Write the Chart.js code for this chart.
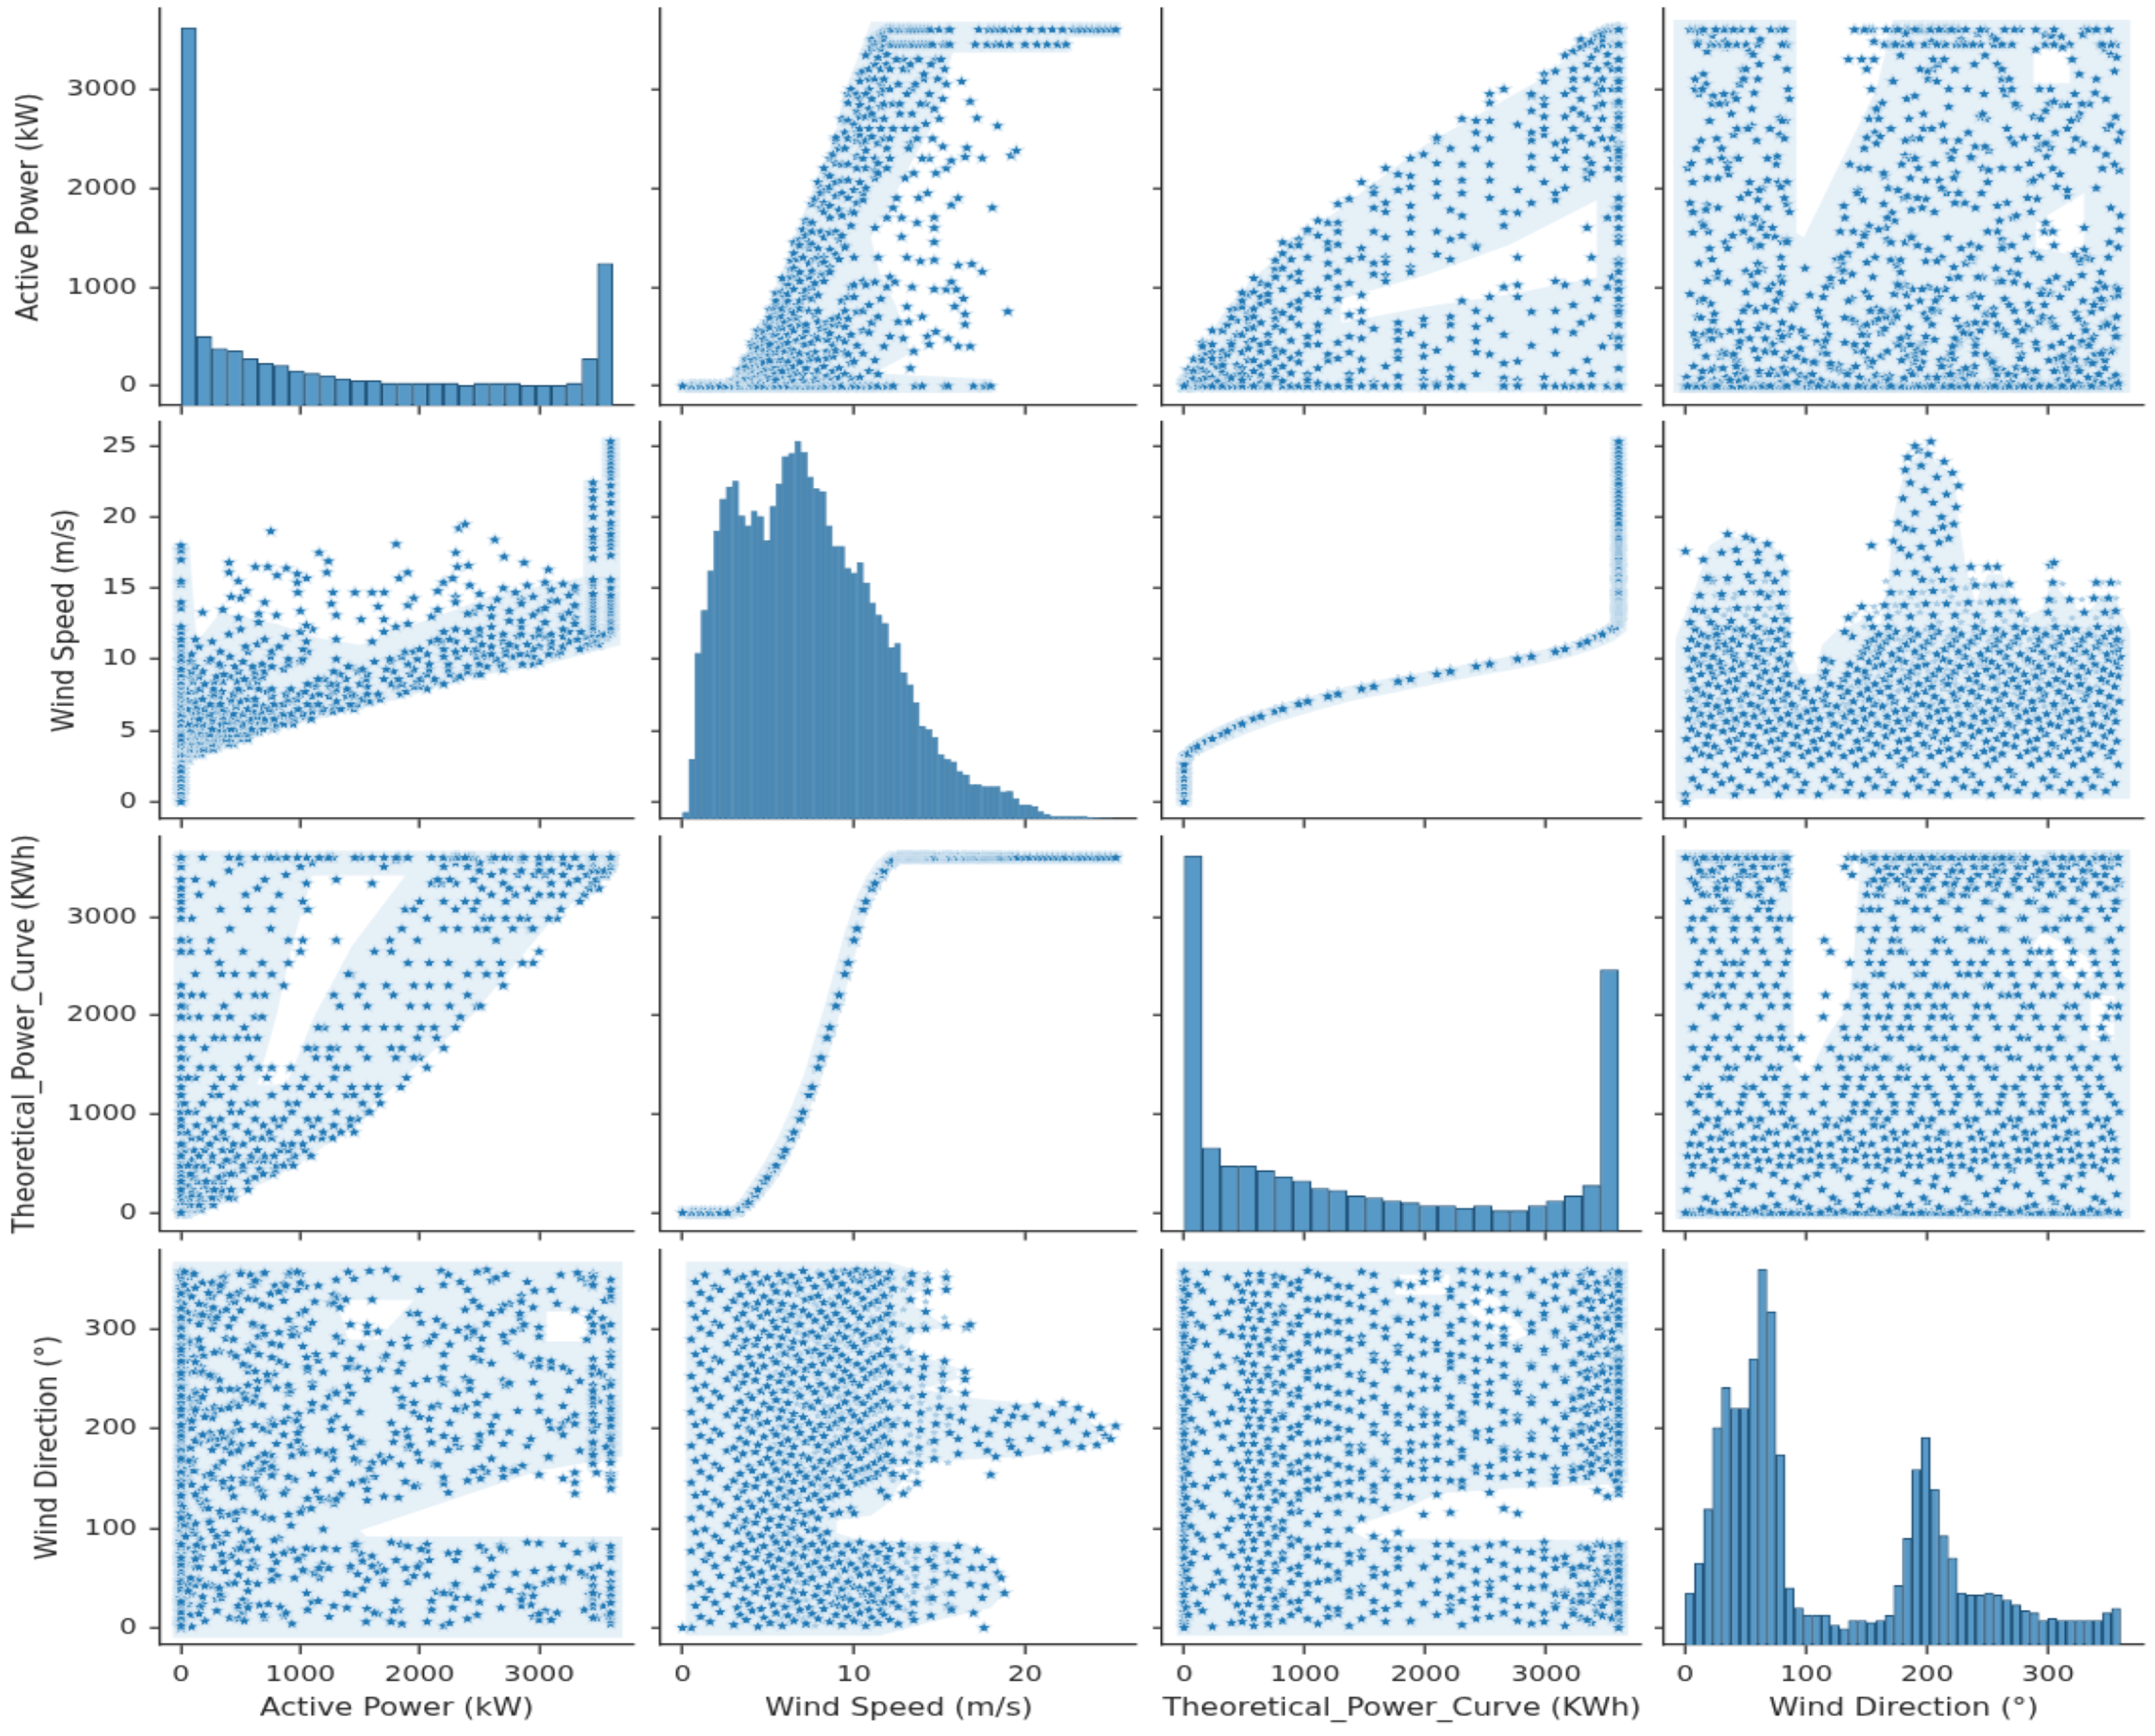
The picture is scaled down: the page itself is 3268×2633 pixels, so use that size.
<!DOCTYPE html>
<html><head><meta charset="utf-8"><title>Wind turbine pair plot</title>
<style>
html,body{margin:0;padding:0;background:#fff;width:3268px;height:2633px;overflow:hidden}
#stage{position:absolute;left:0;top:0;width:2723.33px;height:2633px;transform:scaleX(1.2);transform-origin:0 0}
canvas{position:absolute;image-rendering:auto}
</style>
<script src="https://cdn.jsdelivr.net/npm/chart.js@4/dist/chart.umd.min.js"></script>
</head><body><div id="stage"></div>
<script>
const labels=['Active Power (kW)','Wind Speed (m/s)','Theoretical_Power_Curve (KWh)','Wind Direction (°)'];
const powerTicks=[0,1000,2000,3000];
const speedTicksX=[0,10,20];
const speedTicksY=[0,5,10,15,20,25];
const directionTicks=[0,100,200,300];

// diagonal histograms: bar heights as % of the tallest bar
const histActivePower=[100,18.3,15.1,14.5,12.4,11.2,10.6,9.2,8.5,7.9,7.1,6.6,6.6,5.9,5.9,5.9,5.9,5.9,5.3,5.9,5.9,5.9,5.3,5.3,5.3,5.9,12.4,37.6];
const histWindSpeed=[1.8,15.7,43.9,55.2,65.6,76.3,84.7,87.8,89.4,80.2,77.6,81.5,80.1,73.6,82.7,88.7,95.9,96.8,100,97.1,90.5,87.4,86.7,77.6,72.2,72.2,66.4,65.1,67.8,62.4,57.2,54,51.8,45.3,46.5,38.8,35.5,30.7,24.5,23.7,21.6,17.1,15.8,15.1,12.6,11.7,9.1,9.1,8.5,8.5,8.5,7.2,7.3,5.4,3.8,3.8,3.2,1.9,1.3,.6,.6,.6,.6,.6,.6,.4,.2,.1,.1];
const histTheoretical=[100,22.2,17.4,17.4,16.1,14.6,13.4,11.4,10.9,9.4,8.9,8.1,7.6,6.8,6.8,6.2,6.8,5.5,5.5,6.8,8.1,9.4,12.2,69.6];
const histDirection=[13.9,21.8,36.2,57.9,68.5,63,63,76.2,100,88.7,50.7,15.2,9.9,8,8,8,5.3,4.4,6.6,6.6,6,6.6,7.9,15.9,28.4,46.7,55.3,41.5,29.1,23.2,13.9,13.3,13.3,13.9,13.3,12,10.7,9.2,8.6,6.6,7.1,6.6,6.6,6.6,6.6,6.6,8.6,9.8];
const histBinWidths=[129.2,0.364,150,7.5];

// readings, 20 per line; each line shares two wind-speed steps (below)
const windSpeedSteps=[0.5,0.75,1.05,1.3,1.6,1.9,2.2,2.6,3,3.2,3.36,3.54,3.71,3.89,4.06,4.24,4.41,4.59,4.76,4.94,5.11,5.29,5.46,5.64,5.81,5.99,6.16,6.34,6.51,6.69,6.86,7.04,7.21,7.39,7.56,7.74,7.91,8.09,8.26,8.44,8.61,8.79,8.96,9.14,9.31,9.49,9.66,9.84,10.01,10.19,10.36,10.54,10.71,10.89,11.06,11.24,11.41,11.59,11.76,11.94,12.11,12.29];
const theoreticalSteps=[0,0,0,0,0,0,0,0,0,18,35,55,80,112,150,185,232,276,318,358,392,438,479,531,576,634,694,756,816,884,948,1022,1108,1192,1273,1367,1470,1570,1668,1772,1876,1984,2094,2206,2302,2418,2532,2648,2762,2878,2983,3076,3156,3224,3288,3338,3376,3424,3466,3508,3546,3574];
const ratedTheoretical=3600;
const highWindSpeed=[
12.6,12.6,12.7,12.7,12.8,12.8,12.9,12.9,13,13,13.1,13.1,13.1,13.2,13.2,13.3,13.3,13.3,13.4,13.4,
13.5,13.5,13.6,13.6,13.7,13.7,13.8,13.8,13.9,13.9,14,14,14.1,14.1,14.2,14.2,14.3,14.3,14.4,14.4,
14.5,14.6,14.7,14.7,14.7,14.7,14.7,14.8,15,15.2,15.2,15.3,15.4,15.4,15.4,15.5,15.5,15.5,15.6,15.6,
15.7,15.7,15.7,15.9,16,16.1,16.1,16.1,16.3,16.4,16.5,16.5,16.5,16.6,16.8,16.8,16.9,17,17.1,17.2,
17.3,17.5,17.5,17.6,17.7,17.8,17.9,18,18.1,18.2,18.3,18.4,18.5,18.6,18.8,19,19.1,19.2,19.3,19.5,
19.6,20,20.3,20.7,21,21.3,21.6,21.9,22.2,22.4,22.8,23.1,23.3,23.6,23.9,24.2,24.4,24.7,25,25.3];
const activePower=[
0,0,0,0,0,0,0,0,0,0,0,0,0,0,0,0,0,0,0,0,
0,0,0,0,0,0,0,0,0,0,0,0,0,0,0,0,0,0,0,0,
0,0,0,0,0,0,0,0,0,0,0,0,0,0,0,0,0,0,0,0,
0,0,0,0,0,0,0,0,0,0,0,0,0,0,0,0,0,0,0,0,
0,30,0,10,45,0,20,0,55,15,0,35,5,0,60,25,0,40,0,12,
80,0,150,40,0,110,20,165,60,0,130,10,95,0,170,50,0,120,30,70,
0,180,60,280,120,20,240,0,90,300,150,40,210,0,270,110,70,0,190,30,
300,50,0,420,160,240,10,360,110,0,440,200,70,320,0,140,400,30,260,90,
90,480,230,0,550,20,340,150,420,60,510,0,280,120,560,190,380,40,0,300,
410,0,140,600,280,60,520,0,210,650,350,100,470,20,560,170,0,320,240,620,
0,660,310,120,770,30,450,210,590,0,380,730,80,520,260,0,690,160,420,790,
520,90,800,0,340,920,180,650,20,440,860,260,0,730,120,580,940,380,60,690,
0,830,260,1040,470,110,700,0,950,350,590,30,1090,200,780,420,0,900,150,640,
860,300,0,1180,520,90,1020,680,0,1270,240,760,440,1100,20,600,930,160,0,370,
200,1100,560,1420,0,820,50,1280,350,690,1450,0,980,130,1190,460,1340,0,740,280,
1060,0,1480,420,780,120,330,1560,0,930,240,1300,620,0,1150,60,1420,500,860,1580,
0,1390,560,1650,180,260,900,1240,30,760,1520,0,420,1100,1670,320,970,0,620,1450,
1650,340,1160,0,1840,500,1000,120,1430,720,0,1890,280,1280,880,0,1560,60,440,1040,
480,1800,0,1240,2060,40,760,1560,270,2000,920,0,1390,1950,160,1130,650,0,1300,580,
0,2140,1120,350,1760,560,200,1980,1300,0,2200,100,1500,470,1850,0,1060,280,1250,640,
1550,60,2300,620,1200,410,1820,0,2120,300,1380,2340,530,0,1700,150,2010,680,1150,0,
2480,180,1560,0,2060,620,1330,2400,30,1780,2250,480,0,1480,2510,700,1920,90,360,1280,
0,2680,1520,760,2240,340,1950,2560,0,1420,2080,600,2700,120,1720,2400,0,450,860,1400,
2950,520,1900,0,2680,230,2240,1620,2860,80,2080,3000,900,0,2500,1760,680,0,320,1000,
1750,2930,60,2480,900,2200,0,2780,1980,410,2640,1850,0,2950,1020,2320,250,750,1300,2560,
3150,330,2060,0,2900,1880,2540,760,3080,2300,90,1950,2720,1060,0,2450,2840,560,2600,3180,
2200,3380,0,2800,1020,3200,2000,540,3340,2600,0,3000,2380,820,2720,150,2950,3100,2480,0,
3480,2100,640,3250,0,2700,3420,1600,2900,3100,0,2300,3500,1050,2520,260,2750,3450,0,2180,
2250,3540,0,2960,3320,880,3480,2600,120,3200,2150,3560,0,2820,1300,3530,2450,3400,700,3050,
3580,2400,3100,0,3450,1700,2700,3600,400,3250,3500,2200,3000,0,3550,1000,2850,3350,2500,3600,
3000,3600,2300,3450,1100,3600,3200,0,3450,2600,3600,1800,3450,2850,3600,0,2500,3600,500,3450,
3600,3450,2750,3600,1508,3450,3300,3600,3450,2100,3600,3200,800,3450,3600,2450,3600,180,3450,3000,
3600,3450,2600,0,3600,3300,3450,1900,1260,3600,3450,0,3100,3600,2850,3450,500,3600,3450,2300,
3600,3450,1703,1599,1456,1273,979,3300,3600,2419,3450,0,2198,974,3450,479,3600,0,3600,3450,
2276,1828,1052,805,974,1898,1221,401,3078,883,2315,727,622,2406,2875,401,1234,0,3450,2706,
3600,2302,1156,0,0,3450,3600,0,1802,3600,3450,2628,3600,3450,3600,753,3450,2328,3600,2380,
3600,3450,3600,3450,3600,3450,3600,3450,3600,3450,3600,3600,3600,3600,3600,3600,3600,3600,3600,3600];
const windDirection=[
0,22,41,55,77,96,110,133,146,168,183,204,217,240,253,275,290,312,326,348,
11,30,45,68,83,99,121,136,157,172,193,208,230,244,266,280,301,318,337,355,
6,25,38,62,74,92,115,128,151,164,188,199,223,237,259,271,296,307,331,343,
16,33,52,70,87,104,124,141,160,178,195,214,232,250,268,286,304,321,340,358,
3,20,44,58,80,97,112,131,148,169,181,203,220,241,256,277,293,311,329,350,
13,28,49,65,84,102,119,138,155,175,190,210,227,247,262,283,300,316,335,353,
8,24,40,60,76,94,108,126,144,162,186,200,218,234,254,272,289,306,325,345,
17,36,53,71,89,106,122,142,158,177,197,213,231,249,265,285,303,322,339,357,
1,19,43,56,78,93,113,129,150,166,184,205,216,238,258,274,291,313,327,347,
10,31,47,67,82,100,118,135,153,171,192,207,225,243,263,281,298,317,333,352,
5,23,39,61,73,91,109,127,146,165,180,198,221,236,252,270,294,308,328,344,
15,34,51,69,86,103,123,140,159,176,194,211,229,248,267,284,302,320,338,356,
2,21,42,57,79,95,111,132,149,167,185,202,219,239,255,276,292,310,326,349,
12,29,48,64,85,101,120,137,154,174,189,209,226,246,261,282,299,315,336,354,
7,26,37,59,75,90,107,125,147,163,182,201,215,235,257,273,288,305,323,346,
18,35,54,72,88,105,117,139,156,173,196,212,233,251,269,287,305,319,341,359,
4,20,46,63,81,98,114,130,152,170,187,206,224,242,260,278,295,314,330,351,
14,32,50,66,84,99,116,134,145,161,191,199,222,237,264,279,297,309,332,343,
9,27,41,60,77,92,110,128,151,168,183,204,228,245,256,275,293,318,334,355,
19,36,55,70,86,96,120,143,157,178,193,214,217,240,266,283,301,312,327,348,
6,24,43,62,80,114,131,150,165,184,201,219,235,254,271,290,307,325,344,358,
13,31,48,66,84,116,134,148,169,187,206,223,241,262,280,296,316,333,352,22,
3,20,39,58,75,30,142,157,172,192,210,227,249,258,274,292,310,328,346,358,
11,28,46,64,83,120,136,152,163,181,199,218,236,253,269,286,303,321,339,356,
7,23,41,59,78,145,115,158,176,195,213,231,247,265,283,299,318,336,350,360,
15,34,53,69,86,147,40,160,171,190,208,226,244,260,277,295,312,331,349,355,
2,18,37,55,72,150,64,162,178,197,215,233,251,268,288,305,322,340,358,27,
10,27,44,61,81,152,33,166,183,201,220,237,256,272,291,309,326,343,354,359,
5,22,39,57,76,138,156,170,188,205,224,242,259,275,293,311,329,347,357,17,
13,30,49,67,84,132,160,174,192,209,228,246,263,280,298,316,334,352,26,71,
8,25,42,60,79,155,47,168,186,204,222,240,257,273,290,306,323,341,358,35,
4,21,38,56,74,84,135,152,168,186,205,223,241,259,277,300,330,347,356,14,
8,25,43,60,78,146,165,181,199,216,234,252,262,272,301,318,338,350,30,68,
12,30,47,62,80,170,188,205,222,240,255,268,304,340,352,22,55,74,196,213,
20,18,35,52,68,82,175,190,208,222,236,250,258,302,305,44,60,15,200,78,
185,30,60,0,42,178,195,154,68,210,172,55,218,50,35,205,188,182,213,222,
176,212,190,224,205,180,216,198,226,186,208,221,182,195,214,184,201,193,190,203];
// further direction readings for the rows from line 12 on
const repeatDirectionStart=220;
const repeatDirection=[
150,168,185,203,220,239,257,275,293,311,329,347,6,24,43,60,78,95,112,132,
265,284,301,319,336,356,10,30,50,66,88,104,120,141,158,176,194,210,228,248,
75,92,110,128,146,165,182,200,218,237,254,272,290,307,325,345,4,21,39,57,
212,225,244,263,281,297,317,335,352,13,33,46,69,83,99,116,134,156,172,191,
130,148,167,186,204,221,240,258,276,294,313,331,349,9,27,44,62,80,135,160,
243,262,279,298,315,333,355,11,28,48,67,84,140,155,173,190,208,226,150,170,
56,74,131,147,164,183,201,219,236,255,273,291,308,326,344,2,19,37,132,176,
178,196,213,232,250,269,286,304,322,340,358,16,35,52,71,138,157,143,129,165,
292,310,328,346,6,24,42,61,79,133,151,169,187,206,223,241,259,277,150,80,
149,168,186,204,222,240,258,276,294,312,330,348,7,25,44,61,79,160,178,214,
214,232,250,268,286,304,322,340,358,17,35,53,71,84,150,166,184,201,192,275,
63,80,148,162,179,197,216,234,252,270,288,306,324,342,360,9,27,45,207,243,
247,265,283,301,319,337,355,15,33,50,68,85,152,170,188,206,224,293,40,178,
171,190,208,226,244,262,280,298,316,334,352,4,22,40,58,76,155,174,237,306,
326,344,6,24,42,60,78,153,172,190,208,226,244,262,280,298,316,20,70,200,
35,53,71,158,176,194,212,230,248,266,284,302,320,338,356,14,32,60,182,220,
204,222,240,258,276,294,312,330,348,8,26,44,62,80,161,179,197,215,233,251,
285,303,321,339,357,15,33,51,69,84,164,182,200,218,236,254,272,290,175,45,
12,30,48,66,83,167,185,203,221,239,257,275,293,311,329,347,22,56,194,248,
154,172,190,208,226,244,262,280,298,316,334,352,10,28,46,64,82,148,199,270,
210,228,246,264,282,305,320,340,352,18,32,50,66,80,140,158,176,194,232,270,
15,36,52,70,82,156,174,192,208,226,244,256,268,305,328,345,356,40,186,220,
25,42,58,72,84,178,196,214,232,248,262,312,345,358,35,66,166,204,220,238];
// further speed/power readings in the thick part of the speed-power wedge
const wedgeSpeed=[12.5,12.6,12.7,12.9,13,13.1,13.2,13.3,13.4,13.5,13.6,13.7,13.8,13.9,14,14.1,14.2,14.3,14.4,14.5,14.6,14.7,14.8,14.9,15,15.1,15.2,15.3,15.4,12.5,12.8,13.1,13.4,13.7,12.6,12.9,13.2,13.5,14,14.4,14.8,12.4];
const wedgePower=[3300,3050,2850,3200,2600,2950,2400,3250,2750,2150,3050,2500,3300,2850,2300,3150,2650,1950,2950,3250,2500,2800,2150,3100,2700,3300,2900,3200,3050,1900,1700,1300,1000,1650,650,480,650,350,700,420,550,1050];
const stillAirRow=[0,0,0,0];

// outlines of the pale haze made by overlapping translucent markers
const hazeSpeedPower=[[-0.3,-70],[18.1,-70],[18.1,70],[11.2,130],[13.3,330],[12.5,800],[11.5,1150],[11,1500],[12,1800],[13.5,2300],[14.5,2600],[15.5,3200],[15.8,3370],[22.6,3370],[22.6,3520],[25.6,3520],[25.6,3680],[11,3680],[10.3,3350],[9.4,2950],[9,2600],[8.3,2250],[7.4,1900],[6.5,1500],[5.6,1050],[4.9,720],[4.1,400],[3.3,120],[2.7,70],[-0.3,70]];
const hazeSpeedTheoretical=[[-0.3,-70],[3.1,-70],[3.7,0],[4.3,80],[5.2,260],[6,470],[6.8,760],[7.5,1080],[8.1,1350],[8.7,1700],[9.3,2100],[9.9,2500],[10.5,2880],[11,3130],[11.6,3340],[12.2,3480],[12.8,3530],[25.7,3530],[25.7,3670],[12,3670],[11.3,3560],[10.7,3400],[10.1,3170],[9.5,2860],[8.9,2480],[8.3,2100],[7.7,1760],[7.1,1400],[6.4,1090],[5.6,770],[4.8,520],[4,300],[3.2,100],[2.8,70],[-0.3,70]];
const hazeTheoreticalPower=[[-60,-60],[3670,-60],[3670,3670],[3480,3660],[3000,3130],[2000,2440],[1000,1530],[570,1090],[313,720],[100,260],[-60,90],[-60,-60],[1300,880],[2000,1120],[2700,1430],[3420,1880],[3420,1100],[2700,930],[2000,800],[1300,640],[1300,880],[-60,-60]];
const hazePowerDirection=[[-70,-10],[3700,-10],[3700,92],[1550,92],[1500,98],[2000,118],[2500,138],[3000,158],[3700,172],[3700,368],[-70,368],[-70,-10],[1300,330],[1950,330],[1650,290],[1400,290],[1300,330],[-70,-10],[3060,318],[3400,318],[3400,288],[3060,288],[3060,318],[-70,-10]];
const hazeDirectionSpeed=[[-8,0.2],[368,0.2],[368,12],[355,14.5],[340,14],[330,13],[310,14.8],[303,15.5],[295,13.5],[280,13],[270,14.5],[262,16],[250,16],[240,14],[232,16.5],[226,20],[222,23],[205,24],[195,24.5],[182,23.5],[172,20],[168,15.5],[160,12],[150,13],[140,12.5],[125,12],[113,11],[108,9],[95,9],[88,10.5],[86,16.5],[70,18.3],[50,18.3],[35,18.8],[20,18],[8,15],[-8,11.5]];
const hazeDirectionTheoretical=[[-8,-60],[368,-60],[368,3680],[145,3680],[140,2700],[135,2100],[118,1800],[100,1350],[90,1500],[88,3680],[-8,3680],[-8,-60],[295,2850],[345,2500],[325,2300],[285,2650],[295,2850],[-8,-60],[335,2200],[355,2200],[355,1750],[335,1750],[335,2200],[-8,-60]];

// assemble the four columns of the table
const windSpeed=[],theoreticalPower=[],rowLine=[],rowPos=[],rowStep=[];
for(let k=0;k<windSpeedSteps.length/2;k++)for(let j=0;j<20;j++){windSpeed.push(windSpeedSteps[2*k+j%2]);theoreticalPower.push(theoreticalSteps[2*k+j%2]);rowLine.push(k);rowPos.push(j);rowStep.push(2*k+j%2);}
highWindSpeed.forEach(v=>{windSpeed.push(v);theoreticalPower.push(ratedTheoretical);});
activePower.push(stillAirRow[0]);windSpeed.push(stillAirRow[1]);theoreticalPower.push(stillAirRow[2]);windDirection.push(stillAirRow[3]);
const columns=[activePower,windSpeed,theoreticalPower,windDirection];
const hists=[histActivePower,histWindSpeed,histTheoretical,histDirection];
const hazes=[{a:1,b:0,p:hazeSpeedPower},{a:1,b:2,p:hazeSpeedTheoretical},{a:2,b:0,p:hazeTheoreticalPower},{a:0,b:3,p:hazePowerDirection},{a:3,b:1,p:hazeDirectionSpeed},{a:3,b:2,p:hazeDirectionTheoretical}];

// overlapping readings: the picture shows only the ones not hidden by a neighbour
function visible(i,a,b){
  const has=v=>a===v||b===v,onLine=i<rowLine.length,k=rowLine[i],j=rowPos[i];
  if(has(1)&&has(2))return !onLine||rowStep[i]<8||rowStep[i]%3!==2;
  if(has(1))return true;
  if(has(2))return !onLine||k<4||k>10||(k+j)%3!==0;
  return true;
}

// layout (reference pixels, then divided by horizontal stretch of 1.2)
const STRETCH=1.2;
const colEdges=[[241,961],[1002,1723],[1763,2489],[2524,3249]];
const rowEdges=[[13,613],[640,1240],[1269,1866],[1896,2494]];
const xRanges=[[-182,3800],[-1.27,26.56],[-180,3790],[-17.5,379]];
const yRanges=[[-195,3812],[-1.2,26.67],[-187,3811],[-17.3,379.8]];
const xTicks=[powerTicks,speedTicksX,powerTicks,directionTicks];
const yTicks=[powerTicks,speedTicksY,powerTicks,directionTicks];
const yTitleInset=[16,59,11,38];
const INK='#262626',FONT='"DejaVu Sans"',TICK_SIZE=35,LABEL_SIZE=38,RATIO=0.42;

function starSprite(haloFill,coreFill,coreR){
  const c=document.createElement('canvas');c.width=c.height=30;const g=c.getContext('2d');
  const star=(R,r)=>{g.beginPath();for(let i=0;i<10;i++){const a=-Math.PI/2+i*Math.PI/5,q=i%2?r:R;g.lineTo(15+q*Math.cos(a),15+q*Math.sin(a));}g.closePath();};
  if(haloFill){star(12,6.6);g.fillStyle=haloFill;g.fill();}
  star(coreR,coreR*.5);g.fillStyle=coreFill;g.fill();
  return c;
}
const sprite=starSprite('rgba(205,225,240,0.7)','#1f77b4',7);
const faintSprite=starSprite(null,'#a9cbe3',6);
const stage=document.getElementById('stage');
const fixed=(size,prop)=>s=>{s[prop]=size;};
function axisX(c,r,mB){
  const bottom=r===3;
  return {type:'linear',min:xRanges[c][0],max:xRanges[c][1],offset:false,
    afterBuildTicks:s=>{s.ticks=xTicks[c].map(v=>({value:v}));},afterFit:fixed(mB,'height'),
    border:{display:true,color:INK,width:3},
    grid:{display:true,offset:false,drawOnChartArea:false,drawTicks:true,tickLength:14,tickWidth:3,tickColor:INK},
    ticks:{display:bottom,autoSkip:false,maxRotation:0,minRotation:0,includeBounds:false,padding:10,color:INK,font:{family:FONT,size:TICK_SIZE},callback:v=>String(v)},
    title:{display:bottom,text:labels[c],color:INK,font:{family:FONT,size:LABEL_SIZE},padding:{top:0,bottom:18}}};
}
function axisY(c,r,mL){
  const left=c===0;
  return {type:'linear',min:yRanges[r][0],max:yRanges[r][1],
    afterBuildTicks:s=>{s.ticks=yTicks[r].map(v=>({value:v}));},afterFit:fixed(mL,'width'),
    border:{display:true,color:INK,width:3},
    grid:{display:true,drawOnChartArea:false,drawTicks:true,tickLength:12,tickWidth:3,tickColor:INK},
    ticks:{display:left,autoSkip:false,includeBounds:false,padding:16,color:INK,font:{family:FONT,size:TICK_SIZE},callback:v=>String(v)},
    title:{display:left,text:labels[r],color:INK,font:{family:FONT,size:LABEL_SIZE},padding:{top:yTitleInset[r],bottom:0}}};
}
for(let r=0;r<4;r++)for(let c=0;c<4;c++){
  const L=colEdges[c][0]/STRETCH,W=Math.round((colEdges[c][1]-colEdges[c][0])/STRETCH);
  const T=rowEdges[r][0],H=rowEdges[r][1]-rowEdges[r][0];
  const mL=c===0?Math.round(L):24,mB=r===3?2633-rowEdges[3][1]:45,mT=45,mR=50;
  const cv=document.createElement('canvas');
  cv.width=mL+W+mR;cv.height=mT+H+mB;
  cv.style.left=(L-mL)+'px';cv.style.top=(T-mT)+'px';
  stage.appendChild(cv);
  const scales={x:axisX(c,r,mB),y:axisY(c,r,mL)};
  let type,datasets;
  if(r===c){
    type='bar';
    const bin=histBinWidths[c],vals=hists[c];
    scales.yH={type:'linear',display:false,min:0,max:Math.max(...vals)*1.05};
    const thick=bin*W/(xRanges[c][1]-xRanges[c][0]);
    datasets=[{data:vals.map((v,i)=>({x:(i+.5)*bin,y:v})),yAxisID:'yH',barThickness:thick+.4,
      backgroundColor:c===1?'#4a89b5':'#5799c7',borderColor:c===1?'#2f6a93':'#1d4e73',borderWidth:c===1?1:2.5}];
  }else{
    type='scatter';
    const h=hazes.find(z=>(z.a===c&&z.b===r)||(z.a===r&&z.b===c));
    datasets=[];
    if(h){
      const flip=h.a!==c;
      datasets.push({data:h.p.map(q=>flip?{x:q[1],y:q[0]}:{x:q[0],y:q[1]}),showLine:true,fill:'shape',tension:0,
        backgroundColor:'rgba(31,119,180,0.11)',borderColor:'transparent',borderWidth:0,pointRadius:0,order:3});
    }
    const pts=[];
    columns[c].forEach((v,i)=>{if(visible(i,c,r))pts.push({x:v,y:columns[r][i]});});
    const repeats=repeatDirection.map((d,n)=>{const i=repeatDirectionStart+n;
      return c===3?{x:d,y:columns[r][i]}:{x:columns[c][i],y:d};});
    if(c===3||r===3){
      if(c===1||r===1)datasets.push({data:repeats,showLine:false,pointStyle:faintSprite,pointRadius:6,order:2});
      else pts.push(...repeats);
    }
    if(c===1&&r===0)wedgeSpeed.forEach((w,n)=>pts.push({x:w,y:wedgePower[n]}));
    if(c===0&&r===1)wedgeSpeed.forEach((w,n)=>pts.push({x:wedgePower[n],y:w}));
    datasets.push({data:pts,showLine:false,pointStyle:sprite,pointRadius:6,order:1});
  }
  new Chart(cv,{type,data:{datasets},options:{responsive:false,animation:false,events:[],devicePixelRatio:RATIO,
    layout:{padding:{top:mT,right:mR,left:0,bottom:0}},
    plugins:{legend:{display:false},tooltip:{enabled:false},title:{display:false}},scales}});
}
</script></body></html>
